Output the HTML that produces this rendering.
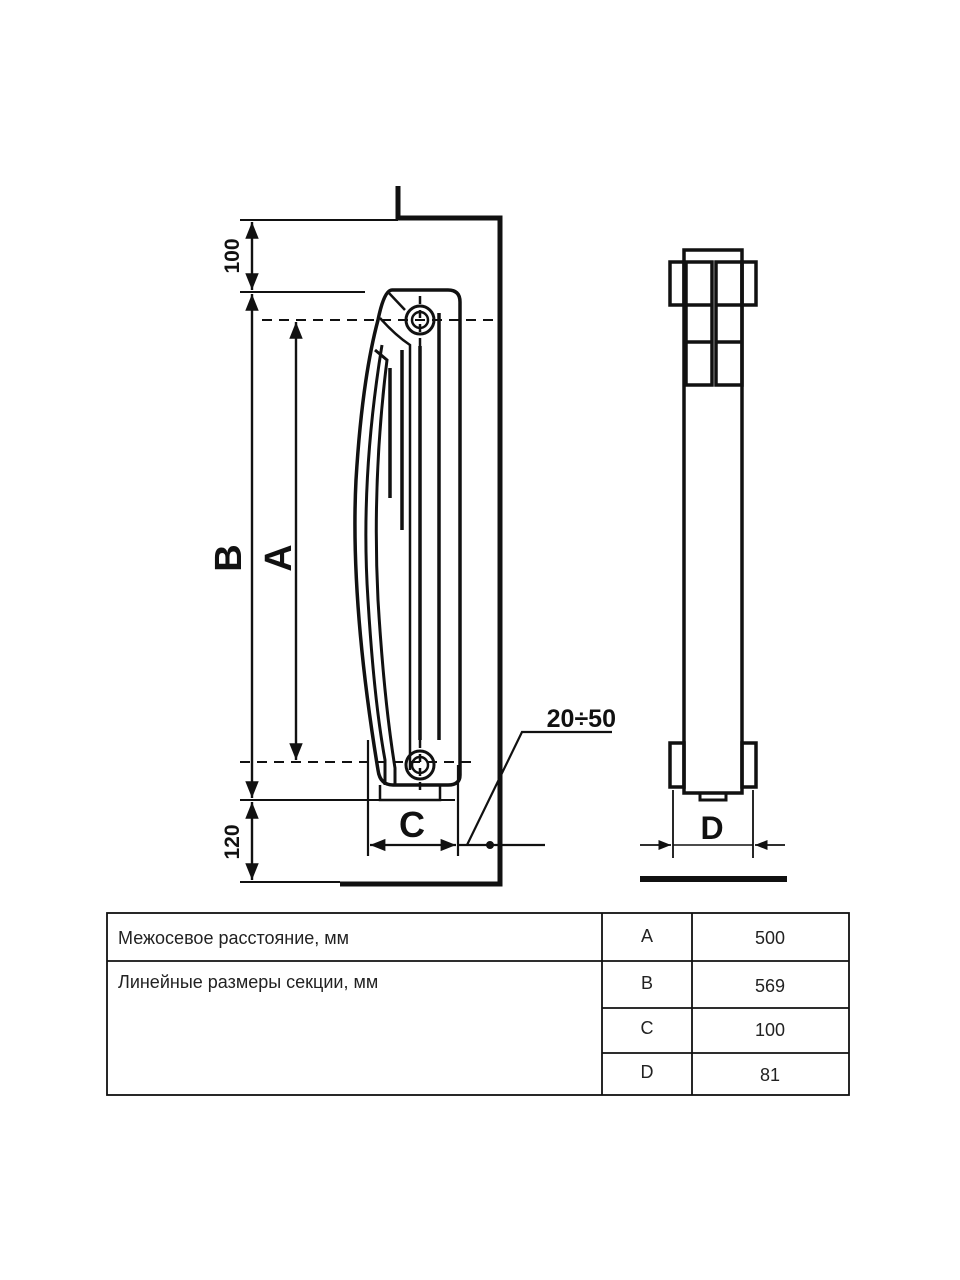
<!DOCTYPE html>
<html><head><meta charset="utf-8"><style>
html,body{margin:0;padding:0;background:#fff;}
svg{display:block;}
</style></head><body>
<svg width="960" height="1280" viewBox="0 0 960 1280" xmlns="http://www.w3.org/2000/svg" font-family="Liberation Sans, DejaVu Sans, sans-serif">
<defs>
<marker id="ar" viewBox="0 0 10 10" refX="10" refY="5" markerWidth="7" markerHeight="7" orient="auto-start-reverse"><path d="M0,1 L10,5 L0,9 z" fill="#111"/></marker>
</defs>
<g stroke="#111" fill="none">
<path d="M398,186 V220 M398,218 H500 V884 H340" stroke-width="5"/>
<path d="M240,220 H398 M240,292 H365 M240,800 H455 M240,882 H340" stroke-width="2"/>
<path d="M252,222 V290" stroke-width="2.4" marker-start="url(#ar)" marker-end="url(#ar)"/>
<path d="M252,294 V798" stroke-width="2.4" marker-start="url(#ar)" marker-end="url(#ar)"/>
<path d="M252,802 V880" stroke-width="2.4" marker-start="url(#ar)" marker-end="url(#ar)"/>
<path d="M296,322 V760" stroke-width="2.4" marker-start="url(#ar)" marker-end="url(#ar)"/>
<path d="M262,320 H495 M240,762 H472" stroke-width="2" stroke-dasharray="10,7"/>
<path d="M392,290 H448 Q460,290 460,302 V775 Q460,785 448,785 H393 Q380,785 378,770 Q350,600 356,480 Q362,380 378,320 Q384,290 392,290 Z" stroke-width="3.5"/>
<path d="M380,318 Q395,335 410,345 L410,770" stroke-width="2.5"/>
<path d="M388,292 L405,310" stroke-width="2.5"/>
<path d="M382,345 Q360,480 368,600 Q374,700 385,760 V785" stroke-width="3"/>
<path d="M375,350 L387,360 Q372,480 378,600 Q384,700 395,768 V785" stroke-width="3"/>
<path d="M390,368 V498 M402,350 V530 M420,346 V740 M439,313 V740" stroke-width="3.5"/>
<path d="M420,296 V360 M420,740 V792" stroke-width="2.5" stroke-dasharray="8,6"/>
<circle cx="420" cy="320" r="14" stroke-width="3"/><circle cx="420" cy="320" r="8" stroke-width="2.5"/>
<circle cx="420" cy="765" r="14" stroke-width="3"/><circle cx="420" cy="765" r="8" stroke-width="2.5"/>
<path d="M380,785 V800 H440 V785" stroke-width="2.5"/>
<path d="M368,740 V856 M458,765 V856" stroke-width="2.2"/>
<path d="M370,845 H456" stroke-width="2.2" marker-start="url(#ar)" marker-end="url(#ar)"/>
<path d="M458,845 H545" stroke-width="2.2"/>
<circle cx="490" cy="845" r="3.5" fill="#111"/>
<path d="M467,845 L522,732 H612" stroke-width="2.2"/>
<rect x="684" y="250" width="58" height="543" stroke-width="3.5"/>
<rect x="686" y="262" width="26" height="123" stroke-width="3.5"/>
<rect x="716" y="262" width="26" height="123" stroke-width="3.5"/>
<path d="M686,305 H712 M686,342 H712 M716,305 H742 M716,342 H742" stroke-width="3.5"/>
<rect x="670" y="262" width="14" height="43" stroke-width="3.5"/>
<rect x="742" y="262" width="14" height="43" stroke-width="3.5"/>
<rect x="670" y="743" width="14" height="44" stroke-width="3.5"/>
<rect x="742" y="743" width="14" height="44" stroke-width="3.5"/>
<rect x="700" y="793" width="26" height="7" stroke-width="3"/>
<path d="M673,790 V858 M753,790 V858" stroke-width="1.8"/>
<path d="M640,845 H671" stroke-width="1.8" marker-end="url(#ar)"/>
<path d="M785,845 H755" stroke-width="1.8" marker-end="url(#ar)"/>
<path d="M673,845 H753" stroke-width="1.6"/>
<path d="M640,879 H787" stroke-width="6"/>
<rect x="107" y="913" width="742" height="182" stroke-width="1.8"/>
<path d="M107,961 H849 M602,913 V1095 M692,913 V1095 M602,1008 H849 M602,1053 H849" stroke-width="1.8"/>
</g>
<g fill="#111" font-weight="bold">
<text x="616" y="727" font-size="25" text-anchor="end">20÷50</text>
<text x="412" y="837" font-size="36" text-anchor="middle">C</text>
<text x="712" y="839" font-size="32" text-anchor="middle">D</text>
<text transform="translate(241,558) rotate(-90)" font-size="38" text-anchor="middle">B</text>
<text transform="translate(291,558) rotate(-90)" font-size="38" text-anchor="middle">A</text>
<text transform="translate(239,256) rotate(-90)" font-size="21" text-anchor="middle">100</text>
<text transform="translate(239,842) rotate(-90)" font-size="21" text-anchor="middle">120</text>
</g>
<g fill="#222" font-size="18">
<text x="118" y="944">Межосевое расстояние, мм</text>
<text x="118" y="988">Линейные размеры секции, мм</text>
<text x="647" y="942" text-anchor="middle">A</text>
<text x="770" y="944" text-anchor="middle">500</text>
<text x="647" y="989" text-anchor="middle">B</text>
<text x="770" y="992" text-anchor="middle">569</text>
<text x="647" y="1034" text-anchor="middle">C</text>
<text x="770" y="1036" text-anchor="middle">100</text>
<text x="647" y="1078" text-anchor="middle">D</text>
<text x="770" y="1081" text-anchor="middle">81</text>
</g>
</svg>
</body></html>
